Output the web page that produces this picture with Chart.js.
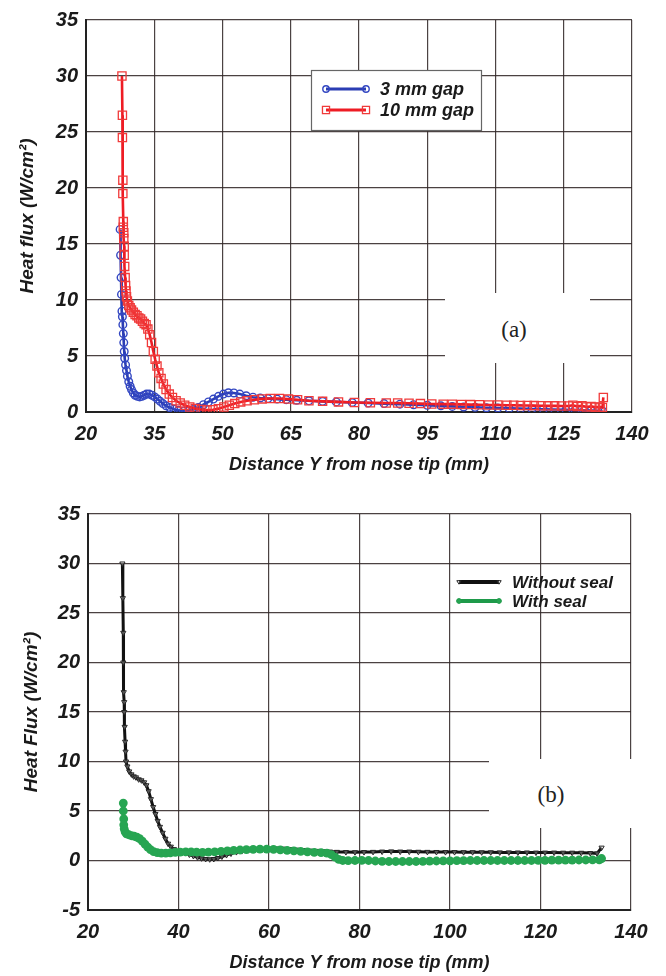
<!DOCTYPE html>
<html><head><meta charset="utf-8">
<script src="https://cdn.jsdelivr.net/npm/chart.js@4.4.1/dist/chart.umd.min.js"></script>
<style>
html,body{margin:0;padding:0;background:#fff;}
#wrap{position:relative;width:666px;height:976px;overflow:hidden;background:#fff;}
canvas{position:absolute;left:0;}
.tag{position:absolute;background:#fff;}
.tagtext{position:absolute;font-family:'Liberation Serif','Times New Roman',serif;font-size:23px;color:#222;text-align:center;width:80px;line-height:26px;}
</style></head><body>
<div id="wrap">
<canvas id="ca" width="666" height="488" style="top:0px"></canvas>
<canvas id="cb" width="666" height="488" style="top:488px"></canvas>
<div class="tag" style="left:445px;top:293px;width:145px;height:70px"></div>
<div class="tagtext" style="left:474px;top:317px">(a)</div>
<div class="tag" style="left:489px;top:759px;width:152px;height:69px"></div>
<div class="tagtext" style="left:511px;top:782px">(b)</div>
</div>
<script>
// ---------- Chart (a) data ----------
const xTicksA = [20, 35, 50, 65, 80, 95, 110, 125, 140];
const yTicksA = [0, 5, 10, 15, 20, 25, 30, 35];

const gap3X = [27.5,27.6,27.7,27.8,27.9,28.0,28.1,28.2,28.3,28.4,28.5,28.7,28.9,29.1,29.4,29.7,30.0,30.4,30.8,31.3,31.8,32.3,32.8,33.3,33.9,34.5,35.1,35.7,36.3,36.9,37.6,38.4,39.3,40.3,41.4,42.5,43.6,44.7,45.8,46.9,48.0,49.1,50.2,51.3,52.5,53.8,55.2,56.7,58.3,60.0,62.0,64.0,66.3,69.0,72.0,75.0,78.5,82.0,85.5,89.0,92.0,95.0,98.0,100.5,103.0,105.5,108.0,110.5,113.0,115.5,118.0,120.5,123.0,125.5,127.5,129.5,131.0,132.5,133.5];
const gap3Y = [16.3,14.0,12.0,10.5,9.0,8.5,7.8,7.0,6.2,5.4,4.8,4.2,3.7,3.2,2.7,2.3,2.0,1.7,1.5,1.4,1.35,1.4,1.5,1.6,1.6,1.5,1.35,1.15,0.95,0.75,0.55,0.4,0.25,0.15,0.1,0.12,0.22,0.4,0.65,0.9,1.15,1.4,1.6,1.72,1.7,1.6,1.45,1.32,1.25,1.2,1.15,1.1,1.05,1.0,0.95,0.9,0.85,0.8,0.75,0.7,0.65,0.6,0.55,0.5,0.45,0.42,0.38,0.35,0.32,0.3,0.27,0.24,0.22,0.2,0.18,0.15,0.12,0.1,0.1];

const gap10X = [27.9,28.0,28.0,28.1,28.1,28.2,28.2,28.3,28.3,28.4,28.4,28.5,28.6,28.7,28.8,28.9,29.1,29.4,29.7,30.0,30.4,30.8,31.2,31.6,32.0,32.4,32.8,33.2,33.6,34.0,34.4,34.8,35.2,35.6,36.0,36.5,37.0,37.6,38.3,39.0,39.8,40.7,41.7,42.8,44.0,45.3,46.6,47.9,49.1,50.3,51.5,52.7,54.0,55.4,57.0,58.7,60.5,62.5,64.5,66.5,69.0,72.0,75.5,79.0,82.5,86.0,88.5,91.0,93.5,96.0,98.5,100.5,102.5,104.5,106.5,108.5,110.5,112.5,114.0,115.5,117.0,118.5,120.0,121.5,123.0,124.5,126.0,127.0,128.0,129.0,130.0,131.0,132.0,133.0,133.5,133.7];
const gap10Y = [30.0,26.5,24.5,20.7,19.5,17.0,16.5,16.0,15.5,14.8,14.0,13.0,12.0,11.3,10.8,10.3,9.9,9.5,9.3,9.1,8.9,8.7,8.6,8.4,8.3,8.1,7.9,7.8,7.4,6.9,6.2,5.4,4.7,4.1,3.5,3.0,2.5,2.0,1.6,1.3,1.0,0.8,0.6,0.45,0.32,0.22,0.18,0.2,0.3,0.45,0.6,0.75,0.9,1.0,1.1,1.17,1.2,1.2,1.15,1.1,1.0,0.95,0.9,0.85,0.82,0.8,0.8,0.78,0.75,0.72,0.7,0.7,0.68,0.66,0.65,0.63,0.62,0.6,0.6,0.58,0.58,0.57,0.56,0.55,0.55,0.54,0.53,0.6,0.5,0.55,0.45,0.5,0.42,0.45,0.4,1.3];

// ---------- Chart (b) data ----------
const xTicksB = [20, 40, 60, 80, 100, 120, 140];
const yTicksB = [-5, 0, 5, 10, 15, 20, 25, 30, 35];

const noSealX = [27.6,27.7,27.8,27.8,27.9,28.0,28.0,28.1,28.2,28.3,28.4,28.7,29.1,29.6,30.1,30.6,31.2,31.8,32.4,32.9,33.4,33.9,34.4,34.9,35.4,35.9,36.5,37.1,37.7,38.3,39.0,39.8,40.6,41.5,42.4,43.3,44.2,45.1,46.0,46.9,47.8,48.7,49.6,50.6,51.6,52.8,54.0,55.5,57.0,58.5,60.0,61.5,63.0,64.5,66.0,67.5,69.0,70.5,72.0,73.5,75.0,77.0,79.0,81.0,83.0,85.0,87.0,89.0,91.0,93.0,95.0,97.0,99.0,101.0,103.0,105.0,107.0,109.0,111.0,113.0,115.0,117.0,119.0,121.0,123.0,125.0,127.0,129.0,131.0,132.5,133.5];
const noSealY = [30.0,26.5,23.0,20.0,17.0,16.0,15.0,13.5,12.0,11.0,10.0,9.5,9.0,8.7,8.5,8.4,8.2,8.1,7.9,7.6,7.0,6.2,5.4,4.7,4.0,3.4,2.8,2.2,1.7,1.4,1.15,1.0,0.9,0.75,0.6,0.45,0.32,0.22,0.15,0.12,0.15,0.25,0.4,0.55,0.7,0.85,0.95,1.05,1.1,1.15,1.2,1.22,1.2,1.15,1.1,1.05,1.0,0.97,0.93,0.9,0.87,0.85,0.84,0.85,0.87,0.9,0.92,0.9,0.9,0.88,0.87,0.86,0.85,0.85,0.84,0.84,0.83,0.83,0.82,0.82,0.81,0.81,0.8,0.8,0.8,0.79,0.79,0.78,0.75,0.72,1.3];

const sealX = [27.8,27.8,27.9,27.9,28.0,28.2,28.5,29.0,29.6,30.2,30.8,31.4,32.0,32.6,33.2,33.8,34.5,35.3,36.2,37.2,38.2,39.3,40.4,41.6,42.8,44.0,45.3,46.6,48.0,49.4,50.8,52.2,53.6,55.0,56.5,58.0,59.5,61.0,62.5,64.0,65.5,67.0,68.5,70.0,71.5,72.8,73.8,74.6,75.4,76.3,77.5,79.0,80.5,82.0,83.5,85.0,86.5,88.0,89.5,91.0,92.5,94.0,95.5,97.0,98.5,100.0,101.5,103.0,104.5,106.0,107.5,109.0,110.5,112.0,113.5,115.0,116.5,118.0,119.5,121.0,122.5,124.0,125.5,127.0,128.5,130.0,131.5,133.0,133.5];
const sealY = [5.8,5.0,4.2,3.6,3.2,2.9,2.7,2.6,2.5,2.45,2.35,2.2,1.95,1.65,1.35,1.1,0.9,0.8,0.75,0.75,0.78,0.82,0.85,0.87,0.88,0.85,0.82,0.85,0.88,0.92,0.97,1.02,1.06,1.1,1.13,1.15,1.15,1.12,1.08,1.03,0.98,0.92,0.87,0.83,0.8,0.75,0.6,0.35,0.12,0.0,-0.02,0.0,0.02,0.0,-0.05,-0.08,-0.1,-0.1,-0.1,-0.1,-0.1,-0.08,-0.06,-0.05,-0.04,-0.03,-0.02,-0.02,0.0,0.0,0.0,0.0,0.0,0.0,0.0,0.0,0.0,0.0,0.02,0.02,0.03,0.03,0.04,0.04,0.05,0.05,0.06,0.06,0.2];

function pts(xs, ys) { return xs.map((x, i) => ({x: x, y: ys[i]})); }

const FAM = "'Liberation Sans', Arial, Helvetica, sans-serif";
const GRID = 'rgba(50,40,40,0.88)';
const INK = '#1a1a1a';

function drawMarker(ctx, ds, x, y, r) {
  ctx.save();
  ctx.lineWidth = ds.pointBorderWidth || 1;
  ctx.strokeStyle = ds.pointBorderColor || ds.borderColor;
  ctx.fillStyle = ds.pointBackgroundColor || ds.borderColor;
  ctx.beginPath();
  if (ds.pointStyle === 'rect') {
    const s = r * Math.SQRT1_2;
    ctx.rect(x - s, y - s, 2 * s, 2 * s);
  } else if (ds.pointStyle === 'triangle') {
    ctx.moveTo(x - r, y - r * 0.6);
    ctx.lineTo(x + r, y - r * 0.6);
    ctx.lineTo(x, y + r);
    ctx.closePath();
  } else {
    ctx.arc(x, y, r, 0, Math.PI * 2);
  }
  ctx.fill();
  ctx.stroke();
  ctx.restore();
}

const lineLegend = {
  id: 'lineLegend',
  afterDraw(chart, args, o) {
    if (!o || !o.x0) return;
    const ctx = chart.ctx;
    ctx.save();
    if (o.box) {
      ctx.fillStyle = '#fff';
      ctx.fillRect(o.box[0], o.box[1], o.box[2], o.box[3]);
      ctx.strokeStyle = '#666';
      ctx.lineWidth = 1.2;
      ctx.strokeRect(o.box[0] + 0.5, o.box[1] + 0.5, o.box[2], o.box[3]);
    }
    chart.data.datasets.forEach((ds, i) => {
      const y = o.y + i * o.gap;
      ctx.strokeStyle = ds.borderColor;
      ctx.lineWidth = o.lineWidth;
      ctx.beginPath();
      ctx.moveTo(o.x0, y);
      ctx.lineTo(o.x1, y);
      ctx.stroke();
      drawMarker(ctx, ds, o.x0, y, o.markerR[i]);
      drawMarker(ctx, ds, o.x1, y, o.markerR[i]);
      ctx.fillStyle = INK;
      ctx.font = o.font;
      ctx.textBaseline = 'middle';
      ctx.textAlign = 'left';
      ctx.fillText(ds.label, o.textX, y + 1);
    });
    ctx.restore();
  }
};

function axisX(ticksArr, titleText, h, tickPad, titlePadB) {
  return {
    type: 'linear', min: ticksArr[0], max: ticksArr[ticksArr.length - 1],
    afterBuildTicks: s => { s.ticks = ticksArr.map(v => ({value: v})); },
    afterFit: s => { s.height = h; },
    ticks: {padding: tickPad, color: INK, font: {family: FAM, size: 20, style: 'italic', weight: 'bold'}},
    grid: {color: GRID, lineWidth: 1.2, drawTicks: false},
    border: {color: '#222', width: 2},
    title: {display: true, text: titleText, color: INK, padding: {top: 0, bottom: titlePadB},
            font: {family: FAM, size: 18, style: 'italic', weight: 'bold'}}
  };
}
function axisY(ticksArr, titleText, w, titlePadT) {
  return {
    type: 'linear', min: ticksArr[0], max: ticksArr[ticksArr.length - 1],
    afterBuildTicks: s => { s.ticks = ticksArr.map(v => ({value: v})); },
    afterFit: s => { s.width = w; },
    ticks: {padding: 8, color: INK, font: {family: FAM, size: 20, style: 'italic', weight: 'bold'}},
    grid: {color: GRID, lineWidth: 1.2, drawTicks: false},
    border: {color: '#222', width: 2},
    title: {display: true, text: titleText, color: INK, padding: {top: titlePadT, bottom: 0},
            font: {family: FAM, size: 19, style: 'italic', weight: 'bold'}}
  };
}

new Chart(document.getElementById('ca'), {
  type: 'scatter',
  data: {datasets: [
    {label: '3 mm gap', data: pts(gap3X, gap3Y), showLine: true, borderColor: '#2b3db4', borderWidth: 2.6,
     pointStyle: 'circle', pointRadius: 3.8, pointBorderWidth: 1.4, pointBorderColor: '#3347c2',
     pointBackgroundColor: 'rgba(255,255,255,0)', order: 1},
    {label: '10 mm gap', data: pts(gap10X, gap10Y), showLine: true, borderColor: '#ee1c24', borderWidth: 2.6,
     pointStyle: 'rect', pointRadius: 5.8, pointBorderWidth: 1.3, pointBorderColor: '#f03a3a',
     pointBackgroundColor: 'rgba(255,255,255,0)', order: 0}
  ]},
  options: {
    responsive: false, animation: false, devicePixelRatio: 1,
    layout: {padding: {left: 0, right: 34, top: 16, bottom: 0}},
    plugins: {
      legend: {display: false}, tooltip: {enabled: false},
      lineLegend: {box: [311, 70, 170, 60], x0: 326, x1: 366, y: 89, gap: 21, textX: 380,
                   lineWidth: 2.8, markerR: [3.2, 5.0], font: "italic bold 18px " + FAM}
    },
    scales: {
      x: axisX(xTicksA, 'Distance Y from nose tip (mm)', 76, 10, 12),
      y: axisY(yTicksA, 'Heat flux (W/cm²)', 86, 16)
    }
  },
  plugins: [lineLegend]
});

new Chart(document.getElementById('cb'), {
  type: 'scatter',
  data: {datasets: [
    {label: 'Without seal', data: pts(noSealX, noSealY), showLine: true, borderColor: '#111111', borderWidth: 3,
     pointStyle: 'triangle', rotation: 180, pointRadius: 3, pointBorderWidth: 1, pointBorderColor: '#222',
     pointBackgroundColor: 'rgba(255,255,255,0.3)', order: 1},
    {label: 'With seal', data: pts(sealX, sealY), showLine: true, borderColor: '#1e9a4a', borderWidth: 3.4,
     pointStyle: 'circle', pointRadius: 4.4, pointBorderWidth: 0, pointBorderColor: '#1e9a4a',
     pointBackgroundColor: '#27a552', order: 0}
  ]},
  options: {
    responsive: false, animation: false, devicePixelRatio: 1,
    layout: {padding: {left: 0, right: 35, top: 26, bottom: 0}},
    plugins: {
      legend: {display: false}, tooltip: {enabled: false},
      lineLegend: {x0: 459, x1: 499, y: 94, gap: 19, textX: 512,
                   lineWidth: 3.8, markerR: [2.2, 2.4], font: "italic bold 17px " + FAM}
    },
    scales: {
      x: axisX(xTicksB, 'Distance Y from nose tip (mm)', 66, 10, 2),
      y: axisY(yTicksB, 'Heat Flux (W/cm²)', 88, 20)
    }
  },
  plugins: [lineLegend]
});
</script>
</body></html>
